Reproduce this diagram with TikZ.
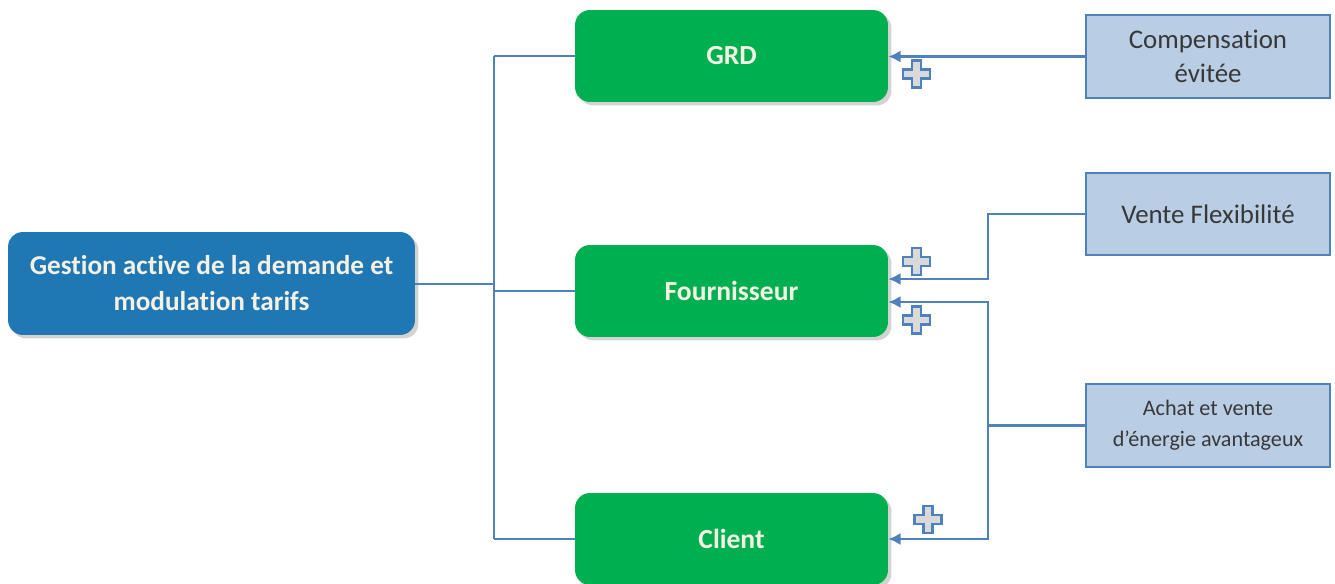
\documentclass[tikz,border=0pt]{standalone}
\usepackage{fontspec}
\setmainfont[Ligatures=NoCommon]{Carlito}
\usetikzlibrary{arrows.meta,shadows,calc}
\definecolor{rootblue}{HTML}{1F77B4}
\definecolor{actgreen}{HTML}{00AF50}
\definecolor{gainfill}{HTML}{B9CDE5}
\definecolor{linkblue}{HTML}{4F81BD}
\definecolor{cream}{HTML}{F4F1E4}
\definecolor{txtgray}{HTML}{383838}
\definecolor{plusgray}{HTML}{D9D9D9}
\tikzset{
  rootbox/.style={draw=none, fill=rootblue, rounded corners=0.3cm,
    minimum width=8.14cm, minimum height=2.06cm, align=center,
    text=cream, font=\bfseries\fontsize{15.5}{20.5}\selectfont,
    drop shadow={shadow xshift=0.07cm, shadow yshift=-0.07cm, opacity=0.35}},
  actorbox/.style={draw=none, fill=actgreen, rounded corners=0.3cm,
    minimum width=6.26cm, minimum height=1.84cm, align=center,
    text=cream, font=\bfseries\fontsize{15.7}{19}\selectfont,
    drop shadow={shadow xshift=0.07cm, shadow yshift=-0.07cm, opacity=0.35}},
  gainbox/.style={draw=linkblue, line width=1.2pt, fill=gainfill,
    minimum width=4.88cm, minimum height=1.65cm, align=center,
    text=txtgray, font=\fontsize{15.3}{19}\selectfont},
  link/.style={draw=linkblue, line width=1.4pt},
  arrowlink/.style={link, -{Latex[length=7pt,width=7pt]}},
  plusicon/.pic={
    \draw[draw=linkblue, fill=plusgray, line width=1.2pt]
      (-4.5,-13.5) -- (4.5,-13.5) -- (4.5,-4.5) -- (13.5,-4.5) -- (13.5,4.5)
      -- (4.5,4.5) -- (4.5,13.5) -- (-4.5,13.5) -- (-4.5,4.5) -- (-13.5,4.5)
      -- (-13.5,-4.5) -- (-4.5,-4.5) -- cycle;
  }
}
\begin{document}
\begin{tikzpicture}[x=0.02cm, y=-0.02cm]
  \useasboundingbox (0,0) rectangle (1335,584);

  % central topic
  \node[rootbox] (root) at (211.5,283.5) {Gestion active de la demande et\\modulation tarifs};

  % actors
  \node[actorbox] (grd) at (731.5,56) {GRD};
  \node[actorbox] (fourn) at (731.5,291) {Fournisseur};
  \node[actorbox] (client) at (731.5,539) {Client};

  % gains
  \node[gainbox] (comp) at (1208,56.5) {Compensation\\évitée};
  \node[gainbox] (vente) at (1208,214) {Vente Flexibilité};
  \node[gainbox, font=\fontsize{12.6}{17.5}\selectfont] (achat) at (1208,425.5) {Achat et vente\\d’énergie avantageux};

  % tree from the central topic to the actors
  \coordinate (bus) at (494,284);
  \draw[link] (root.east |- bus) -- (bus);
  \draw[link] (bus |- grd.west) -- (bus |- client.west);
  \draw[link] (bus |- grd.west) -- (grd.west);
  \draw[link] (bus |- fourn.west) -- (fourn.west);
  \draw[link] (bus |- client.west) -- (client.west);

  % gains towards the actors
  \coordinate (jv) at (988,279);
  \coordinate (ja) at (988,302);
  \draw[arrowlink] (comp.west) -- (comp.west -| grd.east);
  \draw[arrowlink] (vente.west) -| (jv) -- (jv -| fourn.east);
  \draw[arrowlink] (achat.west) -- (achat.west -| ja) |- (ja -| fourn.east);
  \draw[arrowlink] (achat.west -| ja) |- (client.east);

  % plus markers
  \pic at (916.5,74) {plusicon};
  \pic at (916.5,261.5) {plusicon};
  \pic at (916.5,320) {plusicon};
  \pic at (928,519.5) {plusicon};
\end{tikzpicture}
\end{document}
